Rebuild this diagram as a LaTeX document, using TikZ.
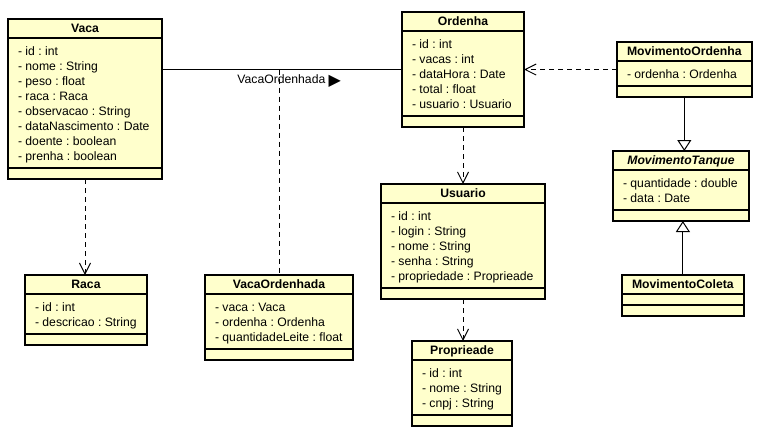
\documentclass[tikz,border=0pt]{standalone}
\usepackage{fontspec}
\setmainfont{Liberation Sans}
\newfontfamily\symbolfont{DejaVu Sans}
\usetikzlibrary{shapes.multipart,arrows.meta}
\definecolor{ClassFill}{HTML}{FFFFCC}
\newcommand{\Head}[1]{\rule[-5.5pt]{0pt}{18pt}\textbf{#1}}
\newcommand{\AttrTop}{\rule{0pt}{17pt}}
\newcommand{\AttrEnd}{\rule[-6.5pt]{0pt}{0pt}}
\newcommand{\NoOps}{\rule{0pt}{10.5pt}}

\begin{document}
\begin{tikzpicture}[x=1pt,y=-1pt]
        \tikzset{
            ClassStyle/.style = {
                rectangle split,
                rectangle split parts = 3,
                rectangle split part align = {center, left, left},
                draw,
                line width = 1pt,
                fill = ClassFill,
                inner xsep = 10pt,
                inner ysep = 0pt,
                outer sep = 0pt,
                anchor = north west,
                align = left,
                font = \fontsize{12.2}{15}\selectfont\frenchspacing,
                postaction = {draw, line width = 2pt}},
            DependStyle/.style = {
                line width = 1pt,
                dash pattern = on 5pt off 4pt,
                -{Straight Barb[length=11pt,width=11pt]}},
            InheritStyle/.style = {
                line width = 1pt,
                -{Triangle[open,length=11pt,width=14pt]}},
            AssocStyle/.style = {line width = 1pt}
                }
    \useasboundingbox (0,0) rectangle (783,437);
    \node[ClassStyle, minimum width = 154pt] (vaca) at (8,19)
        {\Head{Vaca}
        \nodepart{two}\AttrTop - id : int\\
        - nome : String\\
        - peso : float\\
        - raca : Raca\\
        - observacao : String\\
        - dataNascimento : Date\\
        - doente : boolean\\
        - prenha : boolean\AttrEnd
        \nodepart{three}\NoOps};
    \node[ClassStyle, minimum width = 122pt] (ordenha) at (402,12)
        {\Head{Ordenha}
        \nodepart{two}\AttrTop - id : int\\
        - vacas : int\\
        - dataHora : Date\\
        - total : float\\
        - usuario : Usuario\AttrEnd
        \nodepart{three}\NoOps};
    \node[ClassStyle, minimum width = 132pt] (movord) at (617,42)
        {\Head{MovimentoOrdenha}
        \nodepart{two}\AttrTop - ordenha : Ordenha\AttrEnd
        \nodepart{three}\NoOps};
    \node[ClassStyle, minimum width = 136pt] (movtanque) at (613,151)
        {\Head{\textit{MovimentoTanque}}
        \nodepart{two}\AttrTop - quantidade : double\\
        - data : Date\AttrEnd
        \nodepart{three}\NoOps};
    \node[ClassStyle, minimum width = 118pt] (movcoleta) at (622,275)
        {\Head{MovimentoColeta}
        \nodepart{two}\rule{0pt}{9.5pt}
        \nodepart{three}\NoOps};
    \node[ClassStyle, minimum width = 164pt] (usuario) at (381,184)
        {\Head{Usuario}
        \nodepart{two}\AttrTop - id : int\\
        - login : String\\
        - nome : String\\
        - senha : String\\
        - propriedade : Proprieade\AttrEnd
        \nodepart{three}\NoOps};
    \node[ClassStyle, minimum width = 100pt] (proprieade) at (412,341)
        {\Head{Proprieade}
        \nodepart{two}\AttrTop - id : int\\
        - nome : String\\
        - cnpj : String\AttrEnd
        \nodepart{three}\NoOps};
    \node[ClassStyle, minimum width = 122pt] (raca) at (25,275)
        {\Head{Raca}
        \nodepart{two}\AttrTop - id : int\\
        - descricao : String\AttrEnd
        \nodepart{three}\NoOps};
    \node[ClassStyle, minimum width = 148pt] (vacaord) at (205,275)
        {\Head{VacaOrdenhada}
        \nodepart{two}\AttrTop - vaca : Vaca\\
        - ordenha : Ordenha\\
        - quantidadeLeite : float\AttrEnd
        \nodepart{three}\NoOps};
    \draw[AssocStyle] (vaca.east |- ordenha.west) -- node[pos = 0.53, below = 4pt, inner sep = 1pt,
        font = \fontsize{12.2}{15}\selectfont] (assoclabel)
        {VacaOrdenhada \raisebox{-1.5pt}{\smash{\symbolfont\fontsize{16}{16}\selectfont ▶}}} (ordenha.west);
    \coordinate (assocmid) at (vacaord.north |- ordenha.west);
    \draw[AssocStyle, dash pattern = on 5pt off 4pt] (assocmid) -- (vacaord.north);
    \draw[DependStyle] (vaca.south) -- (vaca.south |- raca.north);
    \draw[DependStyle] (ordenha.south) -- (ordenha.south |- usuario.north);
    \draw[DependStyle] (usuario.south) -- (usuario.south |- proprieade.north);
    \draw[DependStyle] (movord.west) -- (ordenha.east |- movord.west);
    \draw[InheritStyle] (movord.south) -- (movord.south |- movtanque.north);
    \draw[InheritStyle] (movcoleta.north) -- (movcoleta.north |- movtanque.south);
    \end{tikzpicture}
\end{document}
